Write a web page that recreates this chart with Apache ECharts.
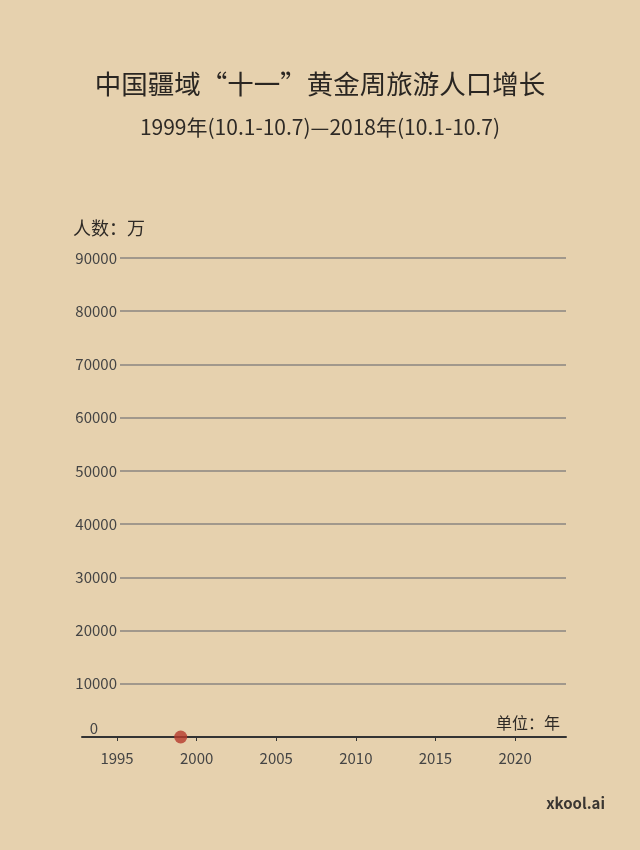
<!DOCTYPE html>
<html><head><meta charset="utf-8">
<script src="https://cdn.jsdelivr.net/npm/echarts@6/dist/echarts.min.js"></script>
<style>html,body{margin:0;padding:0;background:#E6D1AE;}#c{width:640px;height:850px;}</style>
</head><body><div id="c"></div>
<script>
const years = [1999];
const visitors = [0];
const xTicks = [1995, 2000, 2005, 2010, 2015, 2020];
const yMax = 90000, yStep = 10000;
const FONT = '"Noto Sans CJK SC","Noto Sans",sans-serif';

const chart = echarts.init(document.getElementById('c'));
chart.setOption({
  backgroundColor: '#E6D1AE',
  animation: false,
  title: [
    {text: '中国疆域“十一”黄金周旅游人口增长', left: 'center', top: 66,
     textStyle: {fontFamily: FONT, fontSize: 26.5, fontWeight: 'normal', color: '#2a2622'}},
    {text: '1999年(10.1-10.7)—2018年(10.1-10.7)', left: 'center', top: 112,
     textStyle: {fontFamily: FONT, fontSize: 21, fontWeight: 'normal', color: '#2e2a26'}}
  ],
  graphic: [
    {type: 'text', left: 73, top: 219, style: {text: '人数：万', font: '18px ' + FONT, fill: '#2e2a26'}},
    {type: 'text', right: 80, top: 715, style: {text: '单位：年', font: '16px ' + FONT, fill: '#2e2a26'}},
    {type: 'text', right: 35, top: 796, style: {text: 'xkool.ai', font: 'bold 15px ' + FONT, fill: '#3a3632'}}
  ],
  grid: [
    {left: 82, right: 74, top: 258, bottom: 113},
    {left: 120, right: 74, top: 258, bottom: 113}
  ],
  xAxis: [
    {type: 'value', gridIndex: 0, min: 1992.8, max: 2023.2,
     axisLine: {show: true, lineStyle: {color: '#333', width: 2}},
     axisTick: {show: true, customValues: xTicks, length: 4, lineStyle: {color: '#333'}},
     axisLabel: {customValues: xTicks, formatter: v => String(v), fontFamily: FONT, fontSize: 15, color: '#444', margin: 14},
     splitLine: {show: false}},
    {type: 'value', gridIndex: 1, min: 0, max: 1, show: false}
  ],
  yAxis: [
    {type: 'value', gridIndex: 0, min: 0, max: yMax, interval: yStep, show: false, splitLine: {show: false}},
    {type: 'value', gridIndex: 1, min: 0, max: yMax, interval: yStep,
     axisLine: {show: false}, axisTick: {show: false},
     axisLabel: {fontFamily: FONT, fontSize: 15, color: '#444', margin: 3,
       formatter: v => v === 0 ? '{z|0}' : String(v),
       rich: {z: {fontFamily: FONT, fontSize: 15, color: '#444', padding: [0, 19, 18, 0]}}},
     splitLine: {show: true, lineStyle: {color: '#8a8580', width: 1.5}}}
  ],
  series: [{
    type: 'scatter', xAxisIndex: 0, yAxisIndex: 0,
    data: years.map((y, i) => [y, visitors[i]]),
    symbolSize: 13, itemStyle: {color: '#B53A2C'}, z: 10
  }]
});
</script></body></html>
